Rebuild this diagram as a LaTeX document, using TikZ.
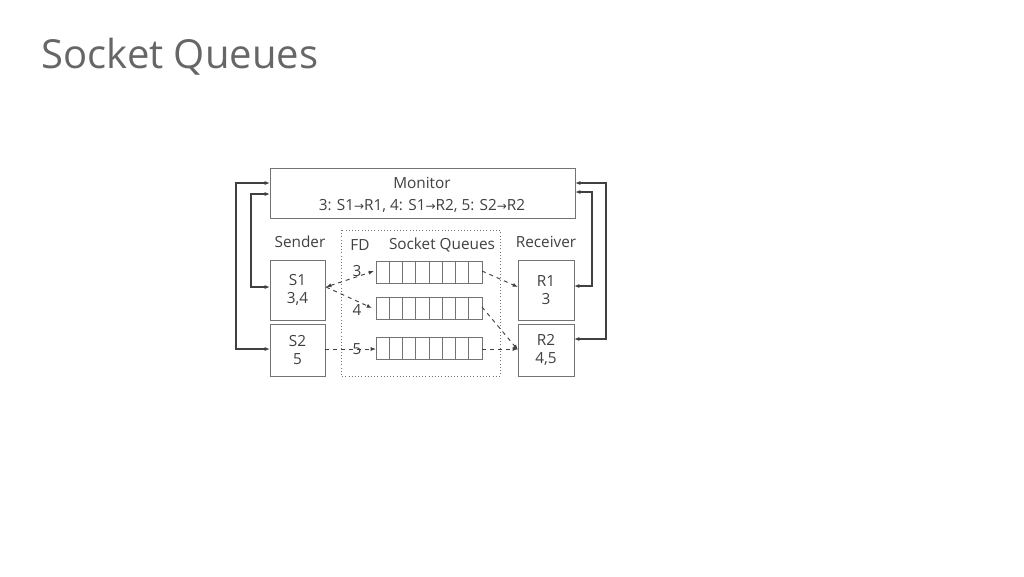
\documentclass[tikz,border=0pt]{standalone}
\usepackage{fontspec}
\setmainfont{Open Sans}
\newfontfamily\arrfont{DejaVu Sans}
\newcommand{\rarr}{{\arrfont\fontsize{9}{12}\selectfont →}}
\usetikzlibrary{arrows.meta}
\begin{document}
\begin{tikzpicture}[x=0.75pt,y=-0.75pt,
  box/.style={draw=black!55,line width=0.6pt},
  lbl/.style={font=\fontsize{11.5}{14}\selectfont,text=black!75},
  thick arrow/.style={draw=black!75,line width=1.2pt,{Latex[length=4pt]}-{Latex[length=4pt]}},
  dash arrow/.style={draw=black!75,dashed,line width=0.7pt,-{Latex[length=4pt]}}]
\useasboundingbox (0,0) rectangle (1024,576);
\node[anchor=west,font=\fontsize{30}{34}\selectfont,text=black!60] (title) at (37,57) {Socket Queues};
\draw[box] (270,168) rectangle (575,218);
\node[lbl] (mon) at (422,183) {Monitor};
\node[lbl] (monmap) at (422,206) {3: S1\rarr R1, 4: S1\rarr R2, 5: S2\rarr R2};
\draw[draw=black!55,dotted] (341,230) rectangle (500,376);
\node[lbl] (snd) at (300,242) {Sender};
\node[lbl] (rcv) at (546,242) {Receiver};
\node[lbl] (fd) at (360,245) {FD};
\node[lbl] (sq) at (442,245) {Socket Queues};
\draw[box] (270,260) rectangle (325,320); \node[lbl,align=center] (s1t) at (297.5,290) {S1\\3,4};
\draw[box] (270,324) rectangle (325,376); \node[lbl,align=center] (s2t) at (297.5,350) {S2\\5};
\draw[box] (518,260) rectangle (574,320); \node[lbl,align=center] (r1t) at (546,290) {R1\\3};
\draw[box] (518,324) rectangle (574,376); \node[lbl,align=center] (r2t) at (546,350) {R2\\4,5};
\foreach \y in {261,297,337}{
  \draw[box] (376,\y) rectangle (482,\y+22);
  \foreach \i in {1,...,7} \draw[box] (376+\i*13.25,\y) -- (376+\i*13.25,\y+22);
}
\node[lbl] (f3) at (357,271) {3};
\node[lbl] (f4) at (357,310) {4};
\node[lbl] (f5) at (357,349) {5};
\draw[thick arrow] (270,183) -- (236,183) -- (236,349) -- (270,349);
\draw[thick arrow] (270,194) -- (251,194) -- (251,287) -- (270,287);
\draw[thick arrow] (575,183) -- (606,183) -- (606,339) -- (574,339);
\draw[thick arrow] (575,192) -- (592,192) -- (592,286) -- (574,286);
\draw[dash arrow,{Latex[length=4pt]}-{Latex[length=4pt]}] (326,287) -- (374,271);
\draw[dash arrow] (326,287) -- (372,308);
\draw[dash arrow] (482,271) -- (518,287);
\draw[dash arrow] (482,307) -- (518,350);
\draw[dash arrow] (325,349) -- (376,349);
\draw[dash arrow] (482,349) -- (518,349);
\end{tikzpicture}
\end{document}
